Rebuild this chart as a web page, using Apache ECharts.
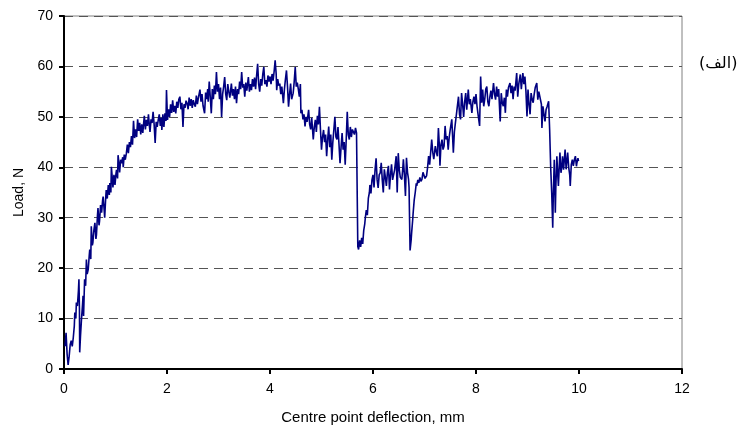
<!DOCTYPE html>
<html>
<head>
<meta charset="utf-8">
<script src="https://cdn.jsdelivr.net/npm/echarts@6/dist/echarts.min.js"></script>
<style>
html,body{margin:0;padding:0;background:#fff;}
#chart{width:750px;height:430px;}
</style>
</head>
<body>
<div id="chart"></div>
<script>
// [deflection mm, load N], segment by segment
const riseSegment = [[0.02,4.5],[0.04,7.2],[0.06,3],[0.08,0.8],[0.10,2.5],[0.12,4.8],[0.14,5.6],[0.16,4.5],[0.18,6.2],[0.20,8.5],[0.21,11.2],[0.23,10],[0.24,13.2],[0.26,12.5],[0.28,15.5],[0.29,17.8],[0.30,12],[0.305,3.3],[0.32,6.5],[0.34,9.9],[0.36,12.8],[0.37,14.5],[0.38,10.5],[0.40,17.8],[0.42,16.5],[0.435,21.7],[0.45,18.8],[0.47,19.7],[0.49,22.5],[0.50,23.7],[0.52,21.8],[0.53,28.3],[0.55,24.5],[0.56,25],[0.58,27.5],[0.60,29],[0.62,25.8],[0.63,26.6],[0.65,30.5],[0.66,31.9],[0.68,28.5],[0.69,29.3],[0.71,32.5],[0.73,31],[0.75,33.5],[0.76,34.2],[0.78,31.5],[0.79,30],[0.81,34],[0.82,35.5],[0.84,33.8],[0.86,36.5],[0.88,34.5],[0.89,36.9],[0.91,35],[0.92,40.1],[0.94,37.5],[0.95,36],[0.97,38.5],[0.99,36.5],[1.01,38.8],[1.02,39.5],[1.04,37.8],[1.05,42.4],[1.07,40.5],[1.08,39],[1.10,41.5],[1.12,40.8],[1.14,42],[1.15,40],[1.17,42.5],[1.19,41.5],[1.21,42.7],[1.23,44.5],[1.25,42.8],[1.27,45],[1.29,44],[1.31,46.2],[1.33,44.5],[1.35,49.2],[1.37,45.8],[1.39,47.5],[1.41,46],[1.43,49.5],[1.45,47.2],[1.47,48.8],[1.49,46.5]];
const plateauSegment = [[1.51,48.5],[1.53,46.8],[1.54,48],[1.56,50.2],[1.58,47.5],[1.60,49.4],[1.62,48.2],[1.64,50.5],[1.66,48],[1.67,47],[1.69,49.5],[1.71,48.8],[1.73,51],[1.75,48.5],[1.77,44.8],[1.79,49],[1.81,48],[1.83,49.4],[1.85,50.5],[1.87,48.2],[1.89,49.8],[1.90,47.4],[1.92,50.5],[1.94,48],[1.96,50.7],[1.98,49.2],[1.99,55.3],[2.01,49.4],[2.03,51.5],[2.05,50],[2.07,52.5],[2.09,50.8],[2.11,53.3],[2.13,51],[2.15,52.2],[2.17,50.7],[2.19,53],[2.21,51.8],[2.23,53.5],[2.25,54],[2.27,51.5],[2.29,52.8],[2.31,48],[2.33,52.5],[2.35,51.8],[2.37,53.2],[2.39,52.7],[2.41,51.5],[2.43,53.8],[2.45,52.2],[2.47,53.5],[2.49,51.8],[2.51,53.3],[2.53,52.5],[2.55,52],[2.57,54.2],[2.59,52.5],[2.61,53.8],[2.64,55.4],[2.66,53],[2.68,54.5],[2.70,52.2],[2.73,50.7],[2.75,54.8],[2.77,53.5],[2.79,55.5],[2.80,53],[2.82,57],[2.84,54],[2.86,50.7],[2.88,55.5],[2.90,53.5],[2.92,56.2],[2.94,54.5],[2.96,58.9],[2.98,55],[3.00,56.5],[3.02,53.5],[3.04,55.8],[3.06,50],[3.08,54.5],[3.10,56],[3.12,57.9],[3.14,54.5],[3.16,53.3],[3.18,56.5],[3.20,55],[3.22,53.8],[3.25,56.6],[3.27,54.2],[3.29,55.5],[3.31,53.5],[3.33,56],[3.35,52.7],[3.37,55.5],[3.39,54.5],[3.41,57],[3.43,55.5],[3.45,58.9],[3.47,55.8],[3.49,56.5],[3.51,54],[3.53,56.8],[3.55,55.2],[3.58,57.9],[3.60,55],[3.62,56.5],[3.64,55.3],[3.66,57.5],[3.68,56],[3.70,57.8],[3.72,55.5],[3.74,58.2],[3.76,60.5],[3.78,56.5],[3.80,55],[3.82,57.5],[3.84,56.2],[3.86,58.5],[3.88,59.9],[3.90,56.5],[3.92,57.3],[3.94,56],[3.96,58.2],[3.98,57],[4.00,58],[4.02,56.5],[4.04,58.5],[4.06,57.2],[4.08,59],[4.10,61.2],[4.12,58.5],[4.13,55.3],[4.15,57.5],[4.17,56.2],[4.19,56.6],[4.21,54.5],[4.23,56],[4.26,52.7],[4.28,55.5],[4.30,57.5],[4.32,59.2],[4.34,56],[4.36,52],[4.38,54.5],[4.40,56.6],[4.42,53.5],[4.45,54.7],[4.47,57],[4.49,59.9],[4.51,56],[4.53,56.8],[4.55,55.5],[4.57,54],[4.59,56.5],[4.60,50.7]];
const declineSegment = [[4.62,51.4],[4.64,49.5],[4.66,50.5],[4.68,48.1],[4.70,50],[4.72,49],[4.75,51.4],[4.77,48.5],[4.79,47.5],[4.81,49.8],[4.84,45.5],[4.86,48],[4.88,49.4],[4.90,47],[4.92,50.2],[4.94,48.5],[4.96,52],[4.98,47.5],[5.00,43.5],[5.02,46],[5.04,47.4],[5.06,45],[5.08,46.5],[5.10,42.2],[5.12,45.5],[5.14,48.1],[5.16,44],[5.18,46.5],[5.20,41.5],[5.22,45],[5.24,47.5],[5.26,50],[5.28,46],[5.30,45.5],[5.32,48],[5.34,44.5],[5.36,40.8],[5.38,44],[5.40,46.8],[5.42,43.5],[5.44,45],[5.46,40.5],[5.48,45.5],[5.50,51],[5.52,46.5],[5.54,45.5],[5.56,48],[5.58,46],[5.60,47.5],[5.62,47.4],[5.64,46.5],[5.66,47.8],[5.68,46.8],[5.70,47]];
const firstRecovery = [[5.705,24.3],[5.72,23.7],[5.74,25.5],[5.76,24.2],[5.78,26],[5.80,24.8],[5.82,27.5],[5.84,28.8],[5.85,29.9],[5.87,31.5],[5.89,30.5],[5.91,33.9],[5.93,35],[5.94,36.5],[5.96,34.8],[5.98,37.5],[6.00,38.5],[6.02,36],[6.04,39.5],[6.06,41.8],[6.08,37.5],[6.10,35.9],[6.12,38.5],[6.14,38.9],[6.16,40.9],[6.18,37.5],[6.20,35],[6.22,39.6],[6.24,38],[6.26,36.3],[6.28,39],[6.30,40.3],[6.32,35.6],[6.34,38.5],[6.36,40.6],[6.38,37.5],[6.40,37.6],[6.42,39.5],[6.45,42.2],[6.47,35],[6.49,42.8],[6.51,39.6],[6.53,38],[6.56,37.6],[6.58,40],[6.59,41.6],[6.61,38.5],[6.63,34.3],[6.65,41.9],[6.67,39],[6.69,37.6],[6.70,36]];
const secondRecovery = [[6.72,23.5],[6.74,25.5],[6.75,27],[6.77,29.5],[6.78,31],[6.80,33.5],[6.82,35],[6.84,36.8],[6.85,36.3],[6.87,37.5],[6.89,36.9],[6.91,38],[6.93,37.2],[6.95,37.6],[6.97,39],[6.99,38.9],[7.01,37.8],[7.04,38.3],[7.06,40],[7.08,42.2],[7.10,40.5],[7.12,40.3],[7.14,45.5],[7.16,43],[7.18,41.6],[7.21,44.2],[7.23,43],[7.25,42.2],[7.27,47.8],[7.29,44],[7.30,40.3],[7.32,44.5],[7.34,45.5],[7.36,43.5],[7.38,44.2],[7.40,48.2],[7.42,45.5],[7.44,46.2],[7.46,43.5],[7.48,46],[7.50,47.5],[7.53,49.5],[7.56,42.9],[7.58,47],[7.60,48.8],[7.63,51.4],[7.66,54],[7.68,50.5],[7.70,49.5],[7.72,54.7],[7.74,52.5],[7.76,50],[7.78,53],[7.80,54.7],[7.82,51.4],[7.85,55.4],[7.87,52.5],[7.89,53.5],[7.92,50.8],[7.94,53],[7.96,54],[7.98,52.5],[8.00,54.5],[8.02,52.1],[8.04,50.5],[8.07,48.2],[8.09,58],[8.11,52.8],[8.13,55.4],[8.15,52.1],[8.17,53.5],[8.19,55.5],[8.21,56],[8.23,53],[8.25,52.1],[8.27,54],[8.29,55.2],[8.31,53.5],[8.34,56.7],[8.36,54.5],[8.38,53.4],[8.40,56],[8.42,54],[8.44,55.5],[8.47,49.1],[8.49,54.7],[8.51,52.8],[8.53,52.1],[8.55,53.8],[8.57,50.8],[8.59,55.4],[8.61,54],[8.63,55.8],[8.66,56.7],[8.68,54.7],[8.70,56.2],[8.72,53.5],[8.74,56],[8.76,55.2],[8.79,58.7],[8.81,54],[8.83,56.5],[8.86,58.4],[8.88,55.5],[8.91,58.7],[8.93,56.5],[8.95,58],[8.97,55],[8.99,50.1],[9.01,55.4],[9.03,52.5],[9.05,50.5],[9.07,54.7],[9.09,53.5],[9.11,52.8],[9.13,54.5],[9.15,55.8],[9.18,56.7],[9.20,53.4],[9.22,55],[9.25,54.7],[9.27,52.5],[9.28,47.8],[9.30,52.1],[9.32,50.5],[9.34,49.1],[9.36,51.4],[9.38,52],[9.41,53.1],[9.43,47.5]];
const tailSegment = [[9.45,40],[9.47,35],[9.49,28],[9.50,34],[9.52,41.5],[9.54,31],[9.55,36],[9.57,42.2],[9.59,38],[9.60,36.3],[9.62,41],[9.63,42.9],[9.65,38.9],[9.67,40.5],[9.68,42.2],[9.70,39.5],[9.73,43.5],[9.75,39.6],[9.77,41.8],[9.78,42.9],[9.80,40],[9.82,38.5],[9.83,36.3],[9.85,40.5],[9.87,41.5],[9.89,40.3],[9.91,41.5],[9.93,42.2],[9.95,40.2],[9.96,40.9],[9.98,41.8],[9.99,41.2]];

const xAxisTitle = 'Centre point deflection, mm';
const yAxisTitle = 'Load, N';
const panelLabel = '(الف)';

const loadCurve = [].concat(riseSegment, plateauSegment, declineSegment, firstRecovery, secondRecovery, tailSegment);

const chart = echarts.init(document.getElementById('chart'), null, {renderer: 'canvas'});
const font = 'Arial, "Liberation Sans", sans-serif';
chart.setOption({
  animation: false,
  backgroundColor: '#fff',
  grid: {left: 64, right: 68, top: 16, bottom: 60, show: true, borderColor: '#808080', borderWidth: 1, backgroundColor: 'transparent'},
  xAxis: {
    type: 'value', min: 0, max: 12, interval: 2,
    name: xAxisTitle, nameLocation: 'middle', nameGap: 41,
    nameTextStyle: {color: '#000', fontFamily: font, fontSize: 15},
    axisLine: {show: true, onZero: false, lineStyle: {color: '#000', width: 2}},
    axisTick: {show: true, inside: false, length: 5, lineStyle: {color: '#000', width: 2}},
    axisLabel: {color: '#000', fontFamily: font, fontSize: 14, margin: 13},
    splitLine: {show: false}
  },
  yAxis: {
    type: 'value', min: 0, max: 70, interval: 10,
    name: yAxisTitle, nameLocation: 'middle', nameGap: 38, nameRotate: 90,
    nameTextStyle: {color: '#000', fontFamily: font, fontSize: 14},
    axisLine: {show: true, onZero: false, lineStyle: {color: '#000', width: 2}},
    axisTick: {show: true, inside: false, length: 5, lineStyle: {color: '#000', width: 2}},
    axisLabel: {color: '#000', fontFamily: font, fontSize: 14, margin: 11},
    splitLine: {show: true, lineStyle: {color: '#555', width: 1, type: [9, 6]}}
  },
  graphic: [{
    type: 'text', left: 699, top: 56,
    style: {text: panelLabel, fill: '#000', font: '16px "DejaVu Sans", "Noto Sans", sans-serif'}
  }],
  series: [{
    type: 'line', data: loadCurve, showSymbol: false, symbol: 'none',
    lineStyle: {color: '#000080', width: 1.6}, z: 3
  }]
});
</script>
</body>
</html>
